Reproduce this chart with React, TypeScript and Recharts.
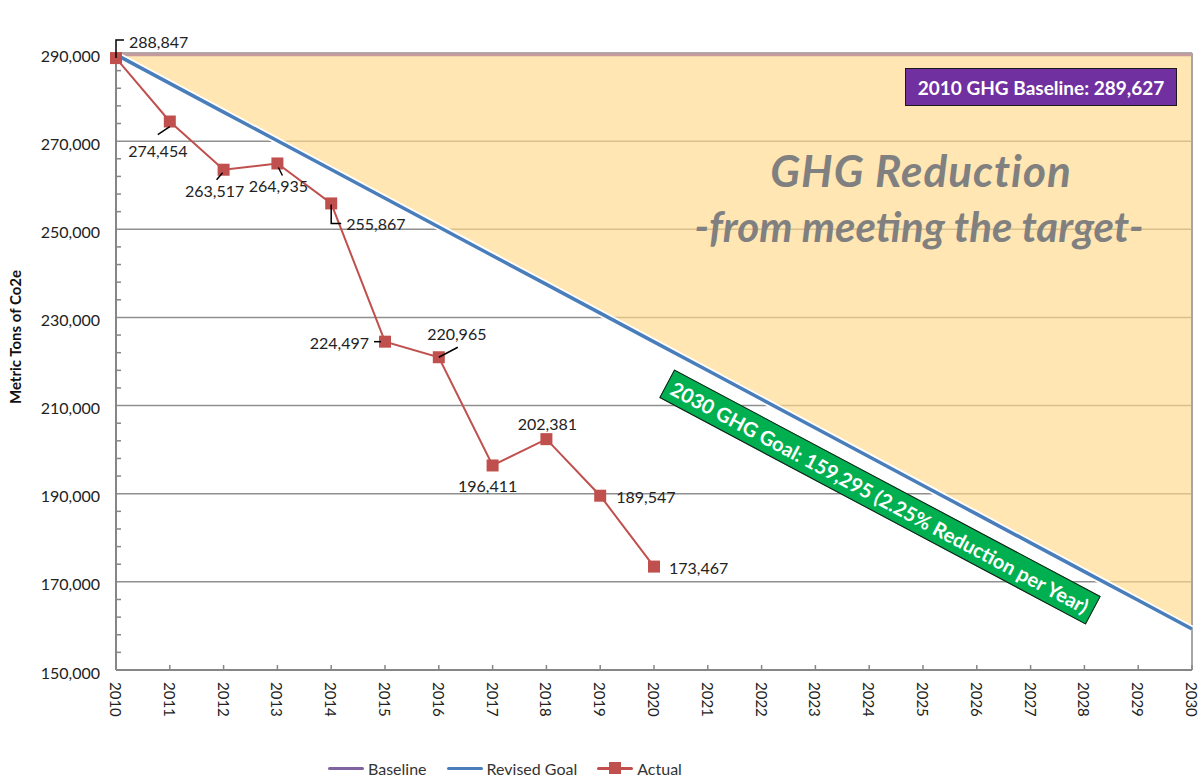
import {
  ComposedChart, Line, Area, XAxis, YAxis, CartesianGrid, ReferenceLine,
} from "recharts";

const years = [
  2010, 2011, 2012, 2013, 2014, 2015, 2016, 2017, 2018, 2019, 2020,
  2021, 2022, 2023, 2024, 2025, 2026, 2027, 2028, 2029, 2030,
];
const baseline = [
  289627, 289627, 289627, 289627, 289627, 289627, 289627, 289627, 289627, 289627, 289627,
  289627, 289627, 289627, 289627, 289627, 289627, 289627, 289627, 289627, 289627,
];
const revisedGoal = [
  289627, 283110, 276594, 270077, 263561, 257044, 250528, 244011, 237495, 230978, 224462,
  217945, 211429, 204912, 198396, 191879, 185363, 178846, 172330, 165813, 159295,
];
const actual = [
  288847, 274454, 263517, 264935, 255867, 224497, 220965, 196411, 202381, 189547, 173467,
];
const yTicks = [150000, 170000, 190000, 210000, 230000, 250000, 270000, 290000];

// minor tick marks every 4,000 along the value axis
const minorTicks = Array.from({ length: 36 }, (_, i) => 150000 + i * 4000);

const rows = years.map((year, i) => ({
  year,
  baseline: baseline[i],
  goal: revisedGoal[i],
  actual: i < actual.length ? actual[i] : null,
}));

const FONT = "Lato, 'Open Sans', sans-serif";
const AXIS = "#868686";
const RED = "#C0504D";
const BLUE = "#4A7EBB";

// where each data label sits relative to its marker, plus its leader line
const labelSpots: { dx: number; dy: number; anchor: "start" | "middle" | "end"; leader?: number[][] }[] = [
  { dx: 13, dy: -17, anchor: "start", leader: [[0, 0], [0, -18], [8, -18]] },
  { dx: -12, dy: 29, anchor: "middle", leader: [[0, 5], [-12, 13]] },
  { dx: -9, dy: 21, anchor: "middle", leader: [[-1, 3], [-7, 10]] },
  { dx: 1, dy: 22, anchor: "middle", leader: [[1, 4], [5, 12]] },
  { dx: 15, dy: 20, anchor: "start", leader: [[0, 1], [0, 20], [10, 20]] },
  { dx: -16, dy: 1, anchor: "end", leader: [[-11, 0], [-4, 0]] },
  { dx: 18, dy: -24, anchor: "middle", leader: [[0, 0], [19, -10]] },
  { dx: -5, dy: 20, anchor: "middle" },
  { dx: 1, dy: -16, anchor: "middle" },
  { dx: 16, dy: 1, anchor: "start" },
  { dx: 15, dy: 1, anchor: "start" },
];

const fmt = (v: number) => v.toLocaleString("en-US");

function YearTick({ x, y, payload }: any) {
  return (
    <g>
      <line x1={x} x2={x} y1={y} y2={y - 5} stroke={AXIS} strokeWidth={1.5} />
      <text
        x={x} y={y + 12}
        transform={`rotate(90 ${x} ${y + 12})`}
        textAnchor="start" dominantBaseline="central"
        fontFamily={FONT} fontSize={15} fill="#222"
      >
        {payload.value}
      </text>
    </g>
  );
}

function ValueTick({ x, y, payload }: any) {
  const major = payload.value % 20000 === 10000;
  return (
    <g>
      {!major && <line x1={x} x2={x + 5} y1={y} y2={y} stroke={AXIS} strokeWidth={1.5} />}
      {major && (
        <text
          x={x - 16} y={y + 2} textAnchor="end" dominantBaseline="central"
          fontFamily={FONT} fontSize={16} fill="#222"
        >
          {fmt(payload.value)}
        </text>
      )}
    </g>
  );
}

function Square({ cx, cy }: any) {
  if (cx == null || cy == null || Number.isNaN(cy)) return null;
  return <rect x={cx - 6} y={cy - 6} width={12} height={12} fill={RED} />;
}

function PointLabel({ x, y, value, index }: any) {
  const s = labelSpots[index];
  if (!s || value == null) return null;
  return (
    <g>
      {s.leader && (
        <polyline
          points={s.leader.map(([a, b]) => `${x + a},${y + b}`).join(" ")}
          fill="none" stroke="#000" strokeWidth={1.5}
        />
      )}
      <text
        x={x + s.dx} y={y + s.dy} textAnchor={s.anchor} dominantBaseline="central"
        fontFamily={FONT} fontSize={16} fill="#222"
      >
        {fmt(value)}
      </text>
    </g>
  );
}

function LegendItem({ color, label, marker }: { color: string; label: string; marker?: boolean }) {
  return (
    <span style={{ display: "flex", alignItems: "center", marginRight: 20 }}>
      <span style={{ position: "relative", width: 36, height: 12, display: "inline-block", marginRight: 4 }}>
        <span style={{ position: "absolute", left: 0, right: 0, top: 5, height: 3, background: color, borderRadius: 2 }} />
        {marker && (
          <span style={{ position: "absolute", left: 12, top: 0, width: 12, height: 12, background: color }} />
        )}
      </span>
      <span>{label}</span>
    </span>
  );
}

export default function App() {
  return (
    <div style={{ position: "absolute", left: 0, top: 0, width: 1204, height: 778, background: "#fff", fontFamily: FONT }}>
      <ComposedChart width={1204} height={778} data={rows} margin={{ top: 53, right: 12, bottom: 0, left: 0 }}>
        <CartesianGrid vertical={false} horizontalValues={yTicks} stroke="#8f8f8f" strokeWidth={1.5} />
        <XAxis
          dataKey="year" type="number" domain={[2010, 2030]} ticks={years} interval={0}
          height={108} tick={<YearTick />} tickSize={0} tickMargin={0} tickLine={false}
          axisLine={{ stroke: AXIS, strokeWidth: 2 }}
        />
        <YAxis
          type="number" domain={[150000, 290000]} ticks={minorTicks} interval={0}
          width={116} tick={<ValueTick />} tickSize={0} tickMargin={0} tickLine={false}
          axisLine={{ stroke: AXIS, strokeWidth: 2 }}
        />
        <ReferenceLine x={2030} stroke="#a6a6a6" strokeWidth={2} />
        <Line dataKey="baseline" stroke="#C49A9C" strokeWidth={3} dot={false} isAnimationActive={false} />
        <Area
          dataKey={(d: any) => [d.goal, d.baseline]}
          fill="#FFD98A" fillOpacity={0.65} stroke="none" isAnimationActive={false}
        />
        <Line dataKey={(d: any) => d.goal} stroke="#fff" strokeWidth={7} dot={false} isAnimationActive={false} />
        <Line dataKey="goal" stroke={BLUE} strokeWidth={3.5} dot={false} isAnimationActive={false} />
        <Line
          dataKey="actual" stroke={RED} strokeWidth={2} dot={<Square />}
          label={(p: any) => <PointLabel {...p} />}
          isAnimationActive={false}
        />
      </ComposedChart>

      <div style={{
        position: "absolute", left: 15, top: 337, transform: "translate(-50%, -50%) rotate(-90deg)",
        whiteSpace: "nowrap", fontWeight: 700, fontSize: 15, color: "#111",
      }}>
        Metric Tons of Co2e
      </div>

      <div style={{
        position: "absolute", left: 921, top: 170, transform: "translate(-50%, -50%)",
        whiteSpace: "nowrap", fontWeight: 700, fontStyle: "italic", fontSize: 44, letterSpacing: 1, color: "#808080",
      }}>
        GHG Reduction
      </div>
      <div style={{
        position: "absolute", left: 919, top: 226, transform: "translate(-50%, -50%)",
        whiteSpace: "nowrap", fontWeight: 700, fontStyle: "italic", fontSize: 42, color: "#808080",
      }}>
        -from meeting the target-
      </div>

      <div style={{
        position: "absolute", left: 905, top: 68, width: 272, height: 38, boxSizing: "border-box",
        background: "#7030A0", border: "1.5px solid #1a1a1a", color: "#fff", fontWeight: 700, fontSize: 19,
        display: "flex", alignItems: "center", justifyContent: "center", whiteSpace: "nowrap",
      }}>
        2010 GHG Baseline: 289,627
      </div>

      <div style={{
        position: "absolute", left: 880, top: 497, width: 483, height: 32, boxSizing: "border-box",
        transform: "translate(-50%, -50%) rotate(28deg)",
        background: "#00B050", border: "1.5px solid #1a1a1a", color: "#fff", fontWeight: 700, fontSize: 20,
        display: "flex", alignItems: "center", justifyContent: "center", whiteSpace: "nowrap",
      }}>
        2030 GHG Goal: 159,295 (2.25% Reduction per Year)
      </div>

      <div style={{
        position: "absolute", left: 328, top: 758, height: 20, display: "flex", alignItems: "center",
        fontSize: 16, color: "#333",
      }}>
        <LegendItem color="#8064A2" label="Baseline" />
        <LegendItem color={BLUE} label="Revised Goal" />
        <LegendItem color={RED} label="Actual" marker />
      </div>
    </div>
  );
}
